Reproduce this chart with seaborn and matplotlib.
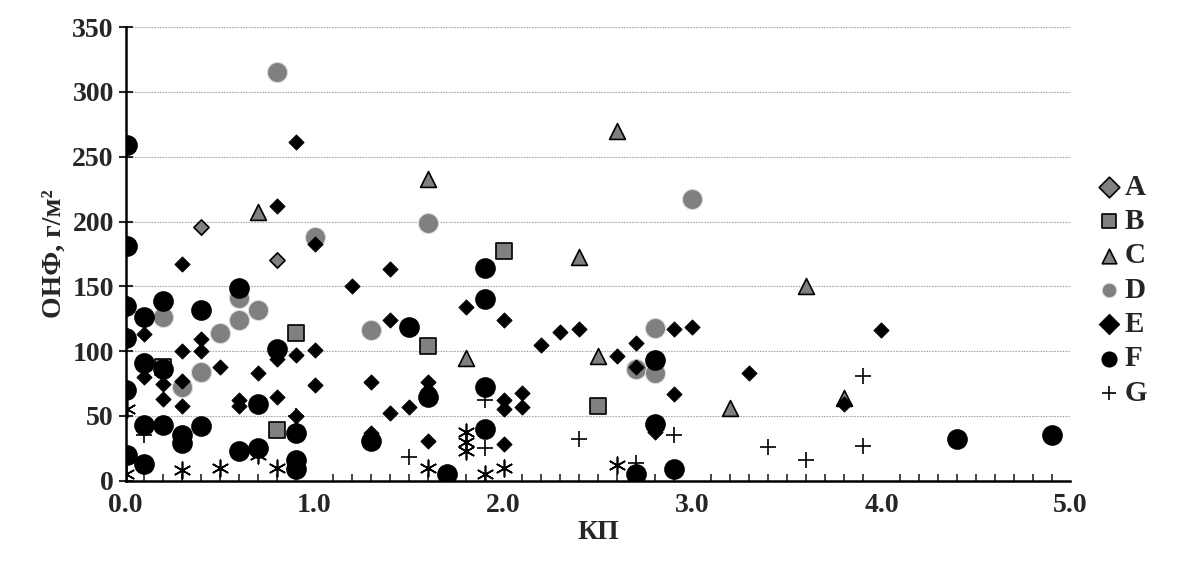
import matplotlib
matplotlib.use('Agg')
import matplotlib.pyplot as plt
import seaborn as sns
import pandas as pd
from matplotlib.ticker import MultipleLocator

sns.set_style('white')
plt.rcParams['font.family'] = ['Liberation Serif', 'DejaVu Serif']
plt.rcParams['font.weight'] = 'bold'

# Data: (КП, ОНФ)
a_x = [0.4, 0.8]
a_y = [196, 170]
b_x = [0.2, 0.8, 0.9, 1.6, 2.0, 2.5]
b_y = [88, 39, 114, 104, 177, 58]
c_x = [0.7, 1.6, 1.8, 2.4, 2.5, 2.6, 3.2, 3.6, 3.8]
c_y = [207, 233, 95, 173, 96, 270, 56, 150, 64]
d_x = [0.2, 0.3, 0.4, 0.5, 0.6, 0.6, 0.7, 0.8, 1.0, 1.3, 1.6, 2.7, 2.8, 2.8, 3.0]
d_y = [126, 72, 84, 114, 124, 141, 132, 315, 188, 116, 199, 86, 83, 118, 217]
e_x = [0.1, 0.1, 0.2, 0.2, 0.2, 0.3, 0.3, 0.3, 0.3, 0.4, 0.4, 0.5, 0.7, 0.6, 0.6,
       0.8, 0.8, 0.8, 0.9, 0.9, 0.9, 1.0, 1.0, 1.0, 1.2, 1.3, 1.3, 1.4, 1.4, 1.4,
       1.5, 1.6, 1.6, 1.6, 1.8, 2.0, 2.0, 2.0, 2.0, 2.1, 2.1, 2.2, 2.3, 2.4, 2.6,
       2.7, 2.7, 2.8, 2.9, 2.9, 3.0, 3.3, 3.8, 4.0]
e_y = [113, 80, 85, 75, 63, 167, 100, 77, 58, 109, 100, 88, 83, 62, 58,
       212, 94, 65, 261, 97, 50, 183, 101, 74, 150, 76, 37, 163, 124, 52,
       57, 76, 70, 31, 134, 124, 62, 55, 28, 68, 57, 105, 115, 117, 96,
       106, 88, 38, 117, 67, 119, 83, 59, 116]
f_x = [0.01, 0.01, 0.0, 0.0, 0.0, 0.01, 0.1, 0.1, 0.1, 0.1, 0.2, 0.2, 0.2, 0.3, 0.3,
       0.4, 0.4, 0.6, 0.6, 0.7, 0.7, 0.8, 0.9, 0.9, 0.9, 1.3, 1.5, 1.6, 1.7, 1.9,
       1.9, 1.9, 1.9, 2.7, 2.8, 2.8, 2.9, 4.4, 4.9]
f_y = [259, 181, 135, 110, 70, 20, 126, 91, 43, 13, 139, 86, 43, 35, 29,
       132, 42, 149, 23, 59, 25, 102, 16, 9, 37, 31, 119, 65, 5, 164,
       140, 72, 40, 5, 93, 44, 9, 32, 35]
g_x = [0.1, 0.9, 1.5, 1.9, 1.9, 2.4, 2.7, 2.9, 3.4, 3.6, 3.9, 3.9]
g_y = [35, 50, 18, 62, 25, 32, 14, 35, 26, 16, 81, 27]
h_x = [0.0, 0.01, 0.3, 0.5, 0.7, 0.7, 0.8, 1.6, 1.8, 1.8, 1.8, 1.9, 2.0, 2.6, 2.7]
h_y = [5, 55, 8, 10, 20, 25, 10, 10, 38, 30, 23, 5, 10, 12, 3]

fig, ax = plt.subplots(figsize=(11.96, 5.63), dpi=100)
ax.yaxis.grid(True, linestyle=(0, (1.5, 1)), color='#aaaaaa', linewidth=0.8)
ax.set_axisbelow(True)

gray = '#808080'
series = [
    ('A', a_x, a_y, dict(marker='D', s=60, color=gray, edgecolor='black', linewidth=1.2)),
    ('B', b_x, b_y, dict(marker='s', s=130, color=gray, edgecolor='black', linewidth=1.2)),
    ('C', c_x, c_y, dict(marker='^', s=130, color=gray, edgecolor='black', linewidth=1.2)),
    ('D', d_x, d_y, dict(marker='o', s=210, color=gray, edgecolor='#dddddd', linewidth=0.8)),
    ('E', e_x, e_y, dict(marker='D', s=60, color='black', edgecolor='black')),
    ('F', f_x, f_y, dict(marker='o', s=190, color='black', edgecolor='black')),
    ('G', g_x, g_y, dict(marker='+', s=130, color='black', linewidth=1.2)),
    ('_nolegend_', h_x, h_y, dict(marker=(6, 2, 0), s=140, color='black', linewidth=1.2)),
]
for name, xs, ys, kw in series:
    df = pd.DataFrame({'x': xs, 'y': ys})
    sns.scatterplot(data=df, x='x', y='y', ax=ax, label=name, zorder=3, **kw)

ax.set_xlim(0, 5.0)
ax.set_ylim(0, 350)
ax.xaxis.set_major_locator(MultipleLocator(1.0))
ax.xaxis.set_minor_locator(MultipleLocator(0.1))
ax.yaxis.set_major_locator(MultipleLocator(50))
ax.set_xticklabels([f'{v:.1f}' for v in ax.get_xticks()])
ax.tick_params(axis='both', which='major', labelsize=20, length=10, width=1.5, direction='inout')
ax.tick_params(axis='x', which='minor', length=5, width=1.2, direction='in', bottom=True)
ax.tick_params(axis='y', which='major', left=True)
for lab in ax.get_xticklabels() + ax.get_yticklabels():
    lab.set_fontweight('bold')
for sp in ['top', 'right']:
    ax.spines[sp].set_visible(False)
for sp in ['left', 'bottom']:
    ax.spines[sp].set_linewidth(1.8)
    ax.spines[sp].set_color('black')

ax.set_xlabel('КП', fontsize=20, fontweight='bold', labelpad=2)
ax.set_ylabel('ОНФ, г/м²', fontsize=20, fontweight='bold', labelpad=4)

leg = ax.legend(loc='center left', bbox_to_anchor=(1.005, 0.42), frameon=False,
                prop={'size': 21, 'weight': 'bold'}, handletextpad=0.1,
                labelspacing=0.25, handlelength=0.9, borderaxespad=0.3)
for h in leg.legend_handles:
    h.set_sizes([110])

plt.subplots_adjust(left=0.105, right=0.895, top=0.952, bottom=0.146)
plt.savefig('out.png')
